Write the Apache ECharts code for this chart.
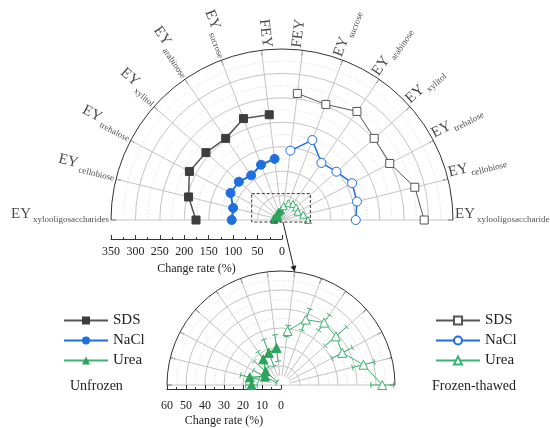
<!DOCTYPE html>
<html><head><meta charset="utf-8">
<script src="https://cdn.jsdelivr.net/npm/echarts@6/dist/echarts.min.js"></script>
<style>html,body{margin:0;padding:0;background:#fff}#c{width:550px;height:428px}</style>
</head><body><div id="c"></div>
<script>
// ---- category labels around the half circle (index 0 = left end, 13 = right end)
const catMain = ['EY','EY','EY','EY','EY','EY','FEY','FEY','EY','EY','EY','EY','EY','EY'];
const catSub  = ['xylooligosaccharides','cellobiose','trehalose','xylitol','arabinose','sucrose','',
                 '','sucrose','arabinose','xylitol','trehalose','cellobiose','xylooligosaccharides'];

// ---- Unfrozen (left half, indices 0..6: xylooligo, cellobiose, trehalose, xylitol, arabinose, sucrose, FEY)
const sdsUnfrozen  = [176, 197, 214, 208, 203, 222, 217];
const naclUnfrozen = [103, 103, 119, 118, 111, 121, 126];
const ureaUnfrozen = [15.5, 16.9, 9.5, 10.8, 16.4, 18.1, 19.6];
const ureaUnfrozenErr = [3, 5, 7, 8, 5, 7.5, 7];

// ---- Frozen-thawed (right half, indices 7..13: FEY, sucrose, arabinose, xylitol, trehalose, cellobiose, xylooligo)
const sdsFrozen  = [261, 253, 270, 252, 249, 280, 291];
const sdsFrozenErr = [5, 7, 5, 6, 5, 6, 5];
const naclFrozen = [143, 175, 142, 149, 162, 158, 151];
const naclFrozenErr = [5, 6, 5, 6, 5, 6, 5];
const ureaFrozen = [28.6, 36.8, 39.9, 38.6, 36.4, 44.7, 53.3];
const ureaFrozenErr = [3, 6, 5, 7.5, 6, 6, 6];

// ---- radial axes
const mainMax = 350, mainStep = 50;
const insetMax = 60, insetStep = 10;

const FONT = 'Liberation Serif';
const C_SDS = '#3d3d3d', C_SDS_L = '#555555';
const C_NACL = '#1f6fe0';
const C_UREA = '#2ea35c', C_UREA_L = '#3cb371';

function toPolar(vals, start) { return vals.map((v, i) => [v, start + i]); }
function errData(vals, errs, start) { return vals.map((v, i) => [v, start + i, errs[i]]); }

function errSeries(vals, errs, start, polarIndex, color) {
  return {
    type: 'custom', coordinateSystem: 'polar', polarIndex: polarIndex, silent: true, z: 8,
    clip: false,
    data: errData(vals, errs, start),
    renderItem: function (params, api) {
      const r = api.value(0), a = api.value(1), e = api.value(2);
      const p1 = api.coord([r - e, a]), p2 = api.coord([r + e, a]);
      const dx = p2[0] - p1[0], dy = p2[1] - p1[1];
      const L = Math.hypot(dx, dy) || 1;
      const px = -dy / L * 3, py = dx / L * 3;
      const st = { stroke: color, lineWidth: 1 };
      return { type: 'group', children: [
        { type: 'line', shape: { x1: p1[0], y1: p1[1], x2: p2[0], y2: p2[1] }, style: st },
        { type: 'line', shape: { x1: p1[0] - px, y1: p1[1] - py, x2: p1[0] + px, y2: p1[1] + py }, style: st },
        { type: 'line', shape: { x1: p2[0] - px, y1: p2[1] - py, x2: p2[0] + px, y2: p2[1] + py }, style: st }
      ]};
    }
  };
}

// half-circle grid rings (major every step, dotted minor halfway)
function ringSeries(polarIndex, max, st) {
  const rings = [];
  for (let v = st / 2; v < max - 1e-9; v += st / 2) rings.push([v, 0, Math.abs(v / st - Math.round(v / st)) < 1e-9 ? 1 : 0]);
  return {
    type: 'custom', coordinateSystem: 'polar', polarIndex: polarIndex, silent: true, z: 1, clip: false,
    data: rings,
    renderItem: function (params, api) {
      const c = api.coord([0, 0]);
      const p = api.coord([api.value(0), 0]);
      const r = Math.hypot(p[0] - c[0], p[1] - c[1]);
      const major = api.value(2) === 1;
      return {
        type: 'arc',
        shape: { cx: c[0], cy: c[1], r: r, startAngle: Math.PI, endAngle: 2 * Math.PI, clockwise: true },
        style: major ? { stroke: '#c4c4c4', lineWidth: 1, fill: null }
                     : { stroke: '#d8d8d8', lineWidth: 1, fill: null, lineDash: [1, 2] }
      };
    }
  };
}

function polarLine(name, vals, start, polarIndex, symbol, size, color, lineColor, lw, open) {
  return {
    type: 'line', name: name, coordinateSystem: 'polar', polarIndex: polarIndex, z: 10,
    data: toPolar(vals, start), symbol: symbol, symbolSize: size, showSymbol: true,
    itemStyle: open ? { color: '#ffffff', borderColor: lineColor, borderWidth: 1 } : { color: color, borderColor: color },
    lineStyle: { color: lineColor, width: lw },
    emphasis: { disabled: true }, animation: false
  };
}

const labelR = mainMax * 1.012;
const step = 180 / 13;
const labelData = catMain.map((m, i) => {
  const left = i <= 6;
  const rot = left ? -i * step : 180 - i * step;
  const txt = catSub[i] ? '{a|' + m + '}{b|' + catSub[i] + '}' : '{a|' + m + '}';
  return {
    value: [labelR, i],
    label: {
      show: true, position: left ? 'left' : 'right', distance: 0,
      align: left ? 'right' : 'left', verticalAlign: 'middle',
      rotate: rot, formatter: txt, padding: [0, 0, 12, 0]
    }
  };
});

const gridLine = { lineStyle: { color: '#c4c4c4', width: 1 } };

function angleAx(pi) {
  return {
    polarIndex: pi, type: 'value', min: 0, max: 13, interval: 1, startAngle: 180, endAngle: 0,
    axisLine: { show: true, lineStyle: { color: '#333', width: 1 } },
    axisTick: { show: true, inside: true, length: 5, lineStyle: { color: '#333' } },
    axisLabel: { show: false },
    splitLine: gridLine
  };
}
function radiusAx(pi, max, st) {
  return {
    polarIndex: pi, type: 'value', min: 0, max: max, interval: st,
    axisLine: { show: false }, axisTick: { show: false }, axisLabel: { show: false },
    splitLine: { show: false }
  };
}

const chart = echarts.init(document.getElementById('c'), null, { renderer: 'canvas' });
const option = {
  animation: false,
  backgroundColor: '#fff',
  textStyle: { fontFamily: FONT },
  polar: [
    { center: [282, 220], radius: 171 },
    { center: [281, 385], radius: 114 }
  ],
  angleAxis: [angleAx(0), angleAx(1)],
  radiusAxis: [radiusAx(0, mainMax, mainStep), radiusAx(1, insetMax, insetStep)],
  grid: [
    { left: 111, width: 171, top: 200, height: 39, show: false },
    { left: 167, width: 114, top: 360, height: 38, show: false }
  ],
  xAxis: [
    {
      gridIndex: 0, type: 'value', min: 0, max: mainMax, interval: mainStep, inverse: true,
      axisLine: { show: true, lineStyle: { color: '#333' } },
      axisTick: { show: true, inside: true, length: 4, lineStyle: { color: '#333' } },
      minorTick: { show: true, splitNumber: 2, length: 2, lineStyle: { color: '#333' } },
      splitLine: { show: false },
      axisLabel: { fontFamily: FONT, fontSize: 12, color: '#222', margin: 7 },
      name: 'Change rate (%)', nameLocation: 'middle', nameGap: 24,
      nameTextStyle: { fontFamily: FONT, fontSize: 12, color: '#222' }
    },
    {
      gridIndex: 1, type: 'value', min: 0, max: insetMax, interval: insetStep, inverse: true,
      axisLine: { show: true, lineStyle: { color: '#333' } },
      axisTick: { show: true, inside: true, length: 4, lineStyle: { color: '#333' } },
      minorTick: { show: true, splitNumber: 2, length: 2, lineStyle: { color: '#333' } },
      splitLine: { show: false },
      axisLabel: { fontFamily: FONT, fontSize: 12, color: '#222', margin: 11 },
      name: 'Change rate (%)', nameLocation: 'middle', nameGap: 26,
      nameTextStyle: { fontFamily: FONT, fontSize: 12, color: '#222' }
    }
  ],
  yAxis: [
    { gridIndex: 0, show: false, min: 0, max: 1 },
    { gridIndex: 1, show: false, min: 0, max: 1 }
  ],
  legend: [
    {
      data: ['SDS', 'NaCl', 'Urea'], orient: 'vertical', left: 58, top: 308,
      itemWidth: 44, itemHeight: 10, itemGap: 5, selectedMode: false,
      textStyle: { fontFamily: FONT, fontSize: 15, color: '#222' }
    },
    {
      data: ['SDS ', 'NaCl ', 'Urea '], orient: 'vertical', left: 430, top: 308,
      itemWidth: 44, itemHeight: 10, itemGap: 5, selectedMode: false,
      formatter: n => n.trim(),
      textStyle: { fontFamily: FONT, fontSize: 15, color: '#222' }
    }
  ],
  title: [
    { text: 'Unfrozen', left: 70, top: 379, padding: 0, textStyle: { fontFamily: FONT, fontSize: 14, fontWeight: 'normal', color: '#222' } },
    { text: 'Frozen-thawed', left: 432, top: 379, padding: 0, textStyle: { fontFamily: FONT, fontSize: 14, fontWeight: 'normal', color: '#222' } }
  ],
  series: [
    ringSeries(0, mainMax, mainStep),
    ringSeries(1, insetMax, insetStep),
    // error bars
    errSeries(sdsFrozen, sdsFrozenErr, 7, 0, C_SDS_L),
    errSeries(naclFrozen, naclFrozenErr, 7, 0, C_NACL),
    errSeries(ureaFrozen, ureaFrozenErr, 7, 1, C_UREA_L),
    errSeries(ureaUnfrozen, ureaUnfrozenErr, 0, 1, C_UREA_L),
    // main polar
    polarLine('SDS', sdsUnfrozen, 0, 0, 'rect', 8, C_SDS, C_SDS_L, 1.5, false),
    polarLine('NaCl', naclUnfrozen, 0, 0, 'circle', 9, C_NACL, C_NACL, 2, false),
    polarLine('Urea', ureaUnfrozen, 0, 0, 'triangle', 7, C_UREA, C_UREA_L, 1.5, false),
    polarLine('SDS ', sdsFrozen, 7, 0, 'rect', 8, C_SDS, C_SDS_L, 1, true),
    polarLine('NaCl ', naclFrozen, 7, 0, 'circle', 9, C_NACL, C_NACL, 1.5, true),
    polarLine('Urea ', ureaFrozen, 7, 0, 'triangle', 7, C_UREA, C_UREA_L, 1, true),
    // inset polar
    polarLine('Urea', ureaUnfrozen, 0, 1, 'triangle', 9, C_UREA, C_UREA_L, 1.5, false),
    polarLine('Urea ', ureaFrozen, 7, 1, 'triangle', 9, C_UREA, C_UREA_L, 1, true),
    // category labels
    {
      type: 'scatter', coordinateSystem: 'polar', polarIndex: 0, symbolSize: 0, silent: true, clip: false,
      data: labelData, z: 12,
      label: {
        color: '#1a1a1a',
        rich: {
          a: { fontFamily: FONT, fontSize: 15, color: '#1a1a1a' },
          b: { fontFamily: FONT, fontSize: 9, color: '#1a1a1a', padding: [12, 0, 0, 2] }
        }
      }
    }
  ]
};
chart.setOption(option);

// annotations: dashed zoom box, arrow to inset, central hole of inset
const c0 = chart.convertToPixel({ polarIndex: 0 }, [0, 0]);
const bl = chart.convertToPixel({ polarIndex: 0 }, [62, 0]);
const br = chart.convertToPixel({ polarIndex: 0 }, [58, 13]);
const bt = chart.convertToPixel({ polarIndex: 0 }, [54, 6.5]);
const c1 = chart.convertToPixel({ polarIndex: 1 }, [0, 0]);
const tip = chart.convertToPixel({ polarIndex: 1 }, [insetMax, 7]);
const boxBottom = c0[1] + 2;
const start = [c0[0] + 1, boxBottom];
const ang = Math.atan2(tip[1] - start[1], tip[0] - start[0]);
const ah = 6, aw = 3;
const back = [tip[0] - ah * Math.cos(ang), tip[1] - ah * Math.sin(ang)];
const nx = -Math.sin(ang) * aw, ny = Math.cos(ang) * aw;
chart.setOption({
  graphic: [
    { type: 'rect', z: 20, shape: { x: bl[0], y: bt[1], width: br[0] - bl[0], height: boxBottom - bt[1] },
      style: { fill: 'none', stroke: '#333', lineWidth: 1, lineDash: [3, 2] } },
    { type: 'line', z: 20, shape: { x1: start[0], y1: start[1], x2: back[0], y2: back[1] },
      style: { stroke: '#222', lineWidth: 1 } },
    { type: 'polygon', z: 20, shape: { points: [tip, [back[0] + nx, back[1] + ny], [back[0] - nx, back[1] - ny]] },
      style: { fill: '#222' } },
    { type: 'sector', z: 1, shape: { cx: c1[0], cy: c1[1] - 0.5, r0: 0, r: 9, startAngle: Math.PI, endAngle: 2 * Math.PI },
      style: { fill: '#fff' } }
  ]
});
</script>
</body></html>
